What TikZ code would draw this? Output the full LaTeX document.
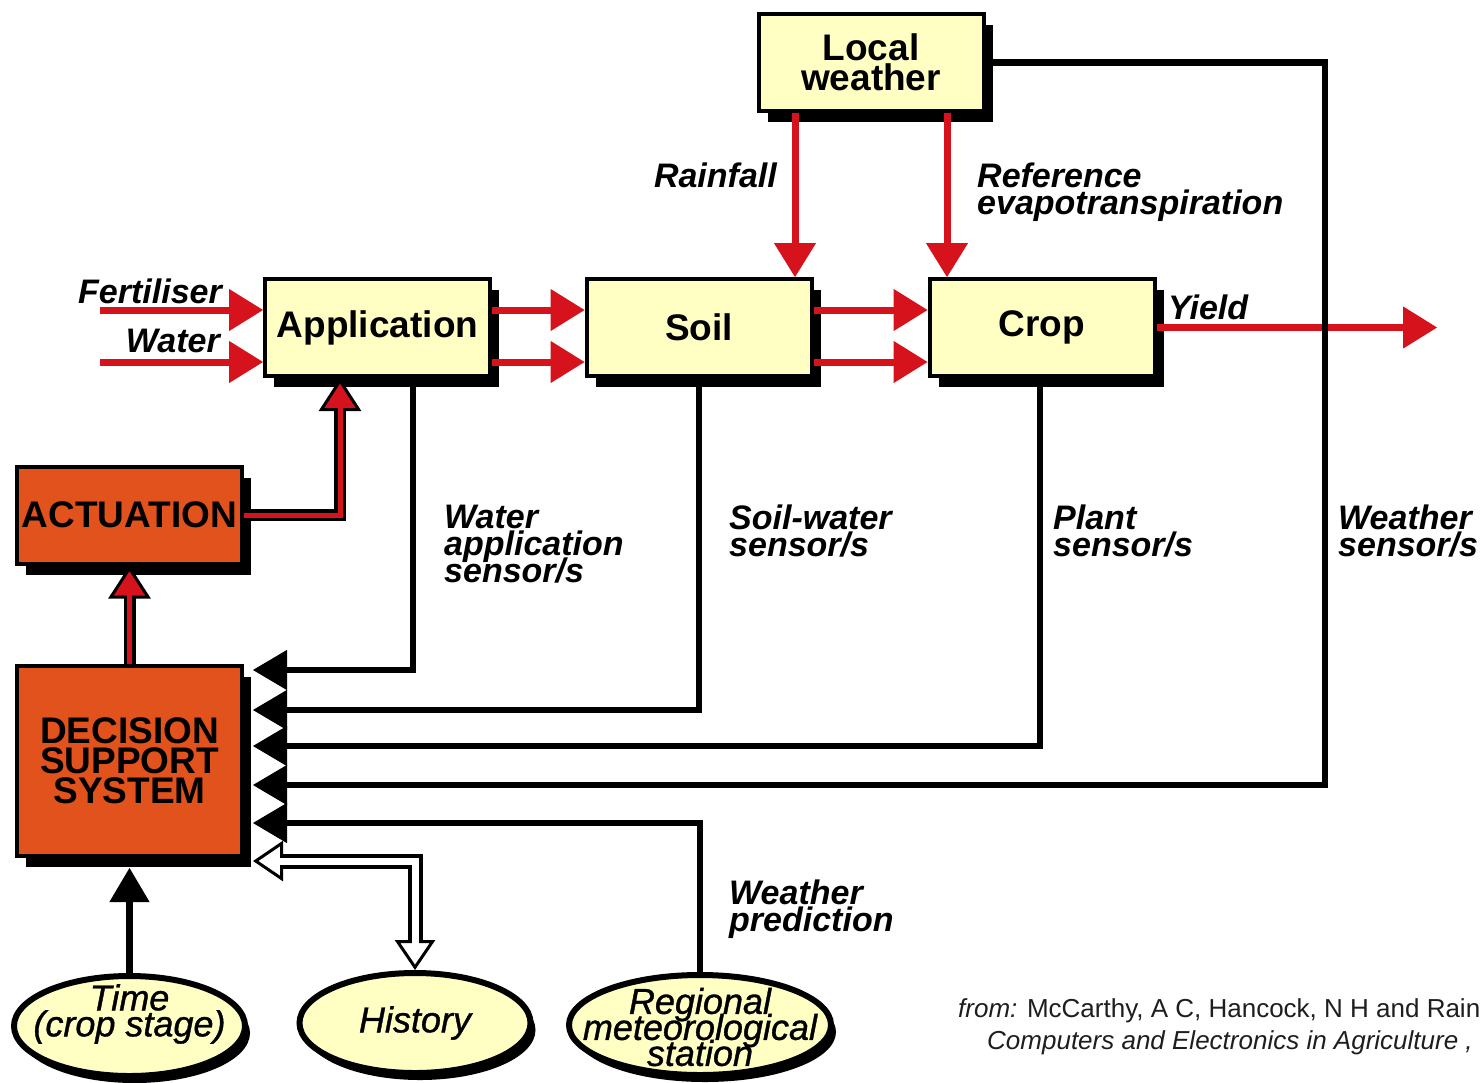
\documentclass[tikz,border=0pt]{standalone}
\usepackage{fontspec}
\setmainfont{Liberation Sans}
\newfontfamily\ovalsans[FakeBold = 1]{Liberation Sans}
\usetikzlibrary{arrows.meta, shapes.geometric, shadows}

\definecolor{boxyellow}{RGB}{255,255,196}
\definecolor{actorange}{RGB}{226,82,28}
\definecolor{flowred}{RGB}{214,18,28}
\definecolor{citegray}{RGB}{30,30,30}

\newcommand{\diagboxfont}{\fontsize{37}{30}\selectfont\bfseries\lineskiplimit=-50pt\lineskip=0pt}
\newcommand{\diaglblfont}{\fontsize{34}{27}\selectfont\bfseries\itshape\lineskiplimit=-50pt\lineskip=0pt}
\newcommand{\diagovalfont}{\fontsize{36}{26}\selectfont\ovalsans\itshape\lineskiplimit=-50pt\lineskip=0pt}
\newcommand{\diagcitefont}{\fontsize{26}{32}\selectfont}

\begin{document}
\begin{tikzpicture}[x = 1pt, y = -1pt,
    block/.style = {draw, line width = 4pt, fill = boxyellow, minimum width = 225pt, minimum height = 97pt, inner sep = 0pt, align = center, font = \diagboxfont, drop shadow = {fill = black, opacity = 1, shadow xshift = 9pt, shadow yshift = -11pt}},
    actblock/.style = {block, fill = actorange},
    oval/.style = {shape = ellipse, draw, line width = 6pt, fill = boxyellow, minimum width = 231pt, minimum height = 100pt, inner sep = 0pt, drop shadow = {fill = black, opacity = 1, shadow xshift = 5pt, shadow yshift = -7pt}},
    ovaltext/.style = {align = center, font = \diagovalfont, inner sep = 0pt},
    lbl/.style = {align = left, font = \diaglblfont, inner sep = 0pt},
    flow/.style = {draw = flowred, line width = 7pt, -{Triangle[length = 34pt, width = 42pt, line width = 1pt]}},
    fb/.style = {draw = black, line width = 6.5pt, line join = miter, -{Triangle[length = 34pt, width = 40pt, line width = 1pt]}},
    actout/.style = {draw = black, line width = 12pt, line join = miter, -{Triangle[length = 33pt, width = 42pt, fill = flowred, line width = 3pt]}},
    actin/.style = {draw = flowred, line width = 5pt, line join = miter, shorten > = 27pt},
    histout/.style = {draw = black, line width = 15pt, line join = miter, {Triangle[length = 30pt, width = 40pt, fill = white, line width = 3pt]}-{Triangle[length = 30pt, width = 40pt, fill = white, line width = 3pt]}},
    histin/.style = {draw = white, line width = 7pt, line join = miter, shorten < = 26pt, shorten > = 26pt}]
    \useasboundingbox (0,0) rectangle (1483,1082);
    \fill[white] (0,0) rectangle (1483,1082);

    \node[block] (lw) at (871, 62.5) {Local\\weather};
    \node[block] (app) at (377.5, 327.5) {Application};
    \node[block] (soil) at (699, 327.5) {Soil};
    \node[block] (crop) at (1042, 327.5) {Crop};
    \node[actblock] (act) at (129.5, 515) {ACTUATION};
    \node[actblock, minimum height = 190pt] (dss) at (129.5, 761) {DECISION\\SUPPORT\\SYSTEM};

    \node[oval] (time) at (129.5, 1026) {};
    \node[ovaltext] (timetxt) at ([yshift = 12pt]time.center) {Time\\(crop stage)};
    \node[oval] (hist) at (415, 1023) {};
    \node[ovaltext] (histtxt) at (hist.center) {History};
    \node[oval, minimum width = 262pt] (reg) at (700, 1025) {};
    \node[ovaltext] (regtxt) at ([yshift = -2pt]reg.center) {Regional\\meteorological\\station};

    \node[lbl, anchor = north east] (fertlbl) at (222, 279) {Fertiliser};
    \node[lbl, anchor = north east] (waterlbl) at (220, 329) {Water};
    \node[lbl, anchor = north east] (rainlbl) at (777, 163) {Rainfall};
    \node[lbl, anchor = north west] (etlbl) at (977, 163) {Reference\\evapotranspiration};
    \node[lbl, anchor = north west] (yieldlbl) at (1168, 295) {Yield};
    \node[lbl, anchor = north west] (walbl) at (444, 505) {Water\\application\\sensor/s};
    \node[lbl, anchor = north west] (swlbl) at (729, 505) {Soil-water\\sensor/s};
    \node[lbl, anchor = north west] (pslbl) at (1053, 505) {Plant\\sensor/s};
    \node[lbl, anchor = north west] (wslbl) at (1338, 505) {Weather\\sensor/s};
    \node[lbl, anchor = north west] (wplbl) at (729, 880) {Weather\\prediction};

    \node[anchor = base west, font = \diagcitefont, text = citegray, inner sep = 0pt] (cite) at (958, 1017) {\textit{from:} McCarthy, A C, Hancock, N H and Rain};
    \node[anchor = base west, font = \diagcitefont, text = citegray, inner sep = 0pt] (journal) at (987, 1049) {\textit{Computers and Electronics in Agriculture ,}};

    \coordinate (fert) at (100, 310);
    \coordinate (wat) at (100, 362);
    \foreach \p in {fert, wat} {
        \draw[flow] (\p) -- (\p -| app.west);
        \draw[flow] (\p -| app.east) -- (\p -| soil.west);
        \draw[flow] (\p -| soil.east) -- (\p -| crop.west);
    }
    \draw[flow] (lw.south -| 795,0) -- (soil.north -| 795,0);
    \draw[flow] (lw.south -| 947,0) -- (crop.north -| 947,0);
    \coordinate (yieldend) at (1437, 327.5);
    \draw[flow] (crop.east) -- (yieldend);

    \draw[actout] (dss.north) -- (act.south);
    \draw[actin] (dss.north) -- (act.south);
    \draw[actout] (act.east) -| (app.south -| 340,0);
    \draw[actin] (act.east) -| (app.south -| 340,0);

    \coordinate (dssin) at ([xshift = 9pt]dss.east);
    \coordinate (dssbot) at ([yshift = -10pt]dss.south);
    \coordinate (wscorner) at (1325, 785);
    \draw[fb] (app.south -| 413,0) |- (dssin |- 0,670);
    \draw[fb] (soil.south) |- (dssin |- 0,710);
    \draw[fb] (crop.south -| 1040,0) |- (dssin |- 0,746);
    \draw[fb] (lw.east) -| (wscorner) -- (dssin |- wscorner);
    \draw[fb] (reg.north) |- (dssin |- 0,823);
    \draw[fb] (time.north) -- (dssbot);
    \draw[histout] (dssin |- 0,861) -| (hist.north);
    \draw[histin] (dssin |- 0,861) -| (hist.north);
\end{tikzpicture}
\end{document}
